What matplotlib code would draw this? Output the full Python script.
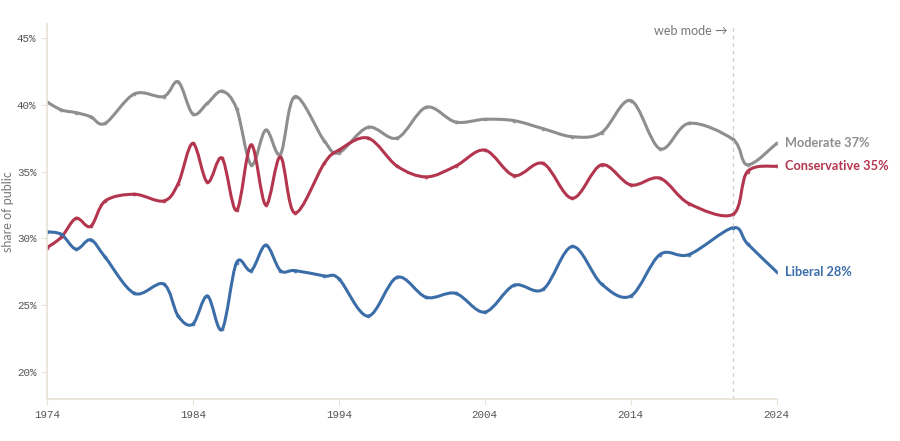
import numpy as np
import matplotlib.pyplot as plt
from matplotlib.path import Path
from matplotlib.patches import PathPatch

# GSS-style survey years and shares (percent)
years = [1974, 1975, 1976, 1977, 1978, 1980, 1982, 1983, 1984, 1985, 1986,
         1987, 1988, 1989, 1990, 1991, 1993, 1994, 1996, 1998, 2000, 2002,
         2004, 2006, 2008, 2010, 2012, 2014, 2016, 2018, 2021, 2022, 2024]

moderate = [40.2, 39.6, 39.4, 39.1, 38.6, 40.8, 40.6, 41.7, 39.3, 40.1, 41.0,
            39.7, 35.5, 38.1, 36.3, 40.6, 37.3, 36.4, 38.3, 37.5, 39.8, 38.7,
            38.9, 38.8, 38.2, 37.6, 37.9, 40.3, 36.7, 38.6, 37.4, 35.5, 37.1]

conservative = [29.3, 30.1, 31.5, 30.9, 32.8, 33.3, 32.8, 34.1, 37.1, 34.2, 36.0,
                32.1, 37.0, 32.5, 36.1, 31.9, 35.6, 36.6, 37.5, 35.4, 34.6, 35.4,
                36.6, 34.7, 35.6, 33.0, 35.5, 34.0, 34.5, 32.6, 31.8, 35.0, 35.4]

liberal = [30.5, 30.3, 29.2, 29.9, 28.6, 25.9, 26.6, 24.2, 23.6, 25.7, 23.2,
           28.2, 27.6, 29.5, 27.6, 27.6, 27.2, 27.0, 24.2, 27.1, 25.6, 25.9,
           24.5, 26.5, 26.2, 29.4, 26.6, 25.7, 28.8, 28.8, 30.8, 29.6, 27.5]

web_mode_year = 2021
x_ticks = [1974, 1984, 1994, 2004, 2014, 2024]
y_ticks = [20, 25, 30, 35, 40, 45]

GREY = '#8e8e8e'
RED = '#b3354e'
BLUE = '#3b6ea8'
AXIS = '#e6e2d6'


def smooth_path(xs, ys):
    # Catmull-Rom spline turned into cubic Bezier segments
    x = np.asarray(xs, float)
    y = np.asarray(ys, float)
    pts = np.column_stack([x, y])
    ext = np.vstack([pts[0], pts, pts[-1]])
    verts = [pts[0]]
    codes = [Path.MOVETO]
    for i in range(len(pts) - 1):
        p0, p1, p2, p3 = ext[i], ext[i + 1], ext[i + 2], ext[i + 3]
        c1 = p1 + (p2 - p0) / 6.0
        c2 = p2 - (p3 - p1) / 6.0
        verts += [c1, c2, p2]
        codes += [Path.CURVE4] * 3
    return Path(verts, codes)


fig = plt.figure(figsize=(9, 4.41), dpi=100)
ax = fig.add_axes([0.052, 0.095, 0.811, 0.85])

for vals, col in [(moderate, GREY), (conservative, RED), (liberal, BLUE)]:
    ax.add_patch(PathPatch(smooth_path(years, vals), facecolor='none',
                           edgecolor=col, lw=2.2, capstyle='round',
                           joinstyle='round'))
    ax.plot(years, vals, 'o', ms=2.8, color=col, alpha=0.8, mec='none')

ax.axvline(web_mode_year, color='#cccccc', lw=0.9, ls=(0, (3, 3)))
ax.text(web_mode_year - 0.4, 45.5, 'web mode \u2192', ha='right', va='center',
        fontsize=9, color='#777777', family='Lato')

ends = [('Moderate', moderate, GREY), ('Conservative', conservative, RED),
        ('Liberal', liberal, BLUE)]
for name, vals, col in ends:
    ax.text(years[-1] + 0.6, vals[-1], f'{name} {round(vals[-1])}%',
            ha='left', va='center', fontsize=9.2, color=col,
            family='Lato', fontweight='bold')

ax.set_xlim(1974, 2024)
ax.set_ylim(18, 46)
ax.set_xticks(x_ticks)
ax.set_xticklabels([str(t) for t in x_ticks])
ax.set_yticks(y_ticks)
ax.set_yticklabels([f'{t}%' for t in y_ticks])
ax.tick_params(axis='both', length=4, width=0.8, color=AXIS,
               labelsize=7.8, labelcolor='#555555')
for lab in ax.get_xticklabels() + ax.get_yticklabels():
    lab.set_family('Liberation Mono')

for side in ['top', 'right']:
    ax.spines[side].set_visible(False)
for side in ['left', 'bottom']:
    ax.spines[side].set_color(AXIS)
    ax.spines[side].set_linewidth(1.2)

ax.set_ylabel('share of public', fontsize=9, color='#777777',
              family='Lato', labelpad=2)

plt.savefig('out.png', dpi=100)
